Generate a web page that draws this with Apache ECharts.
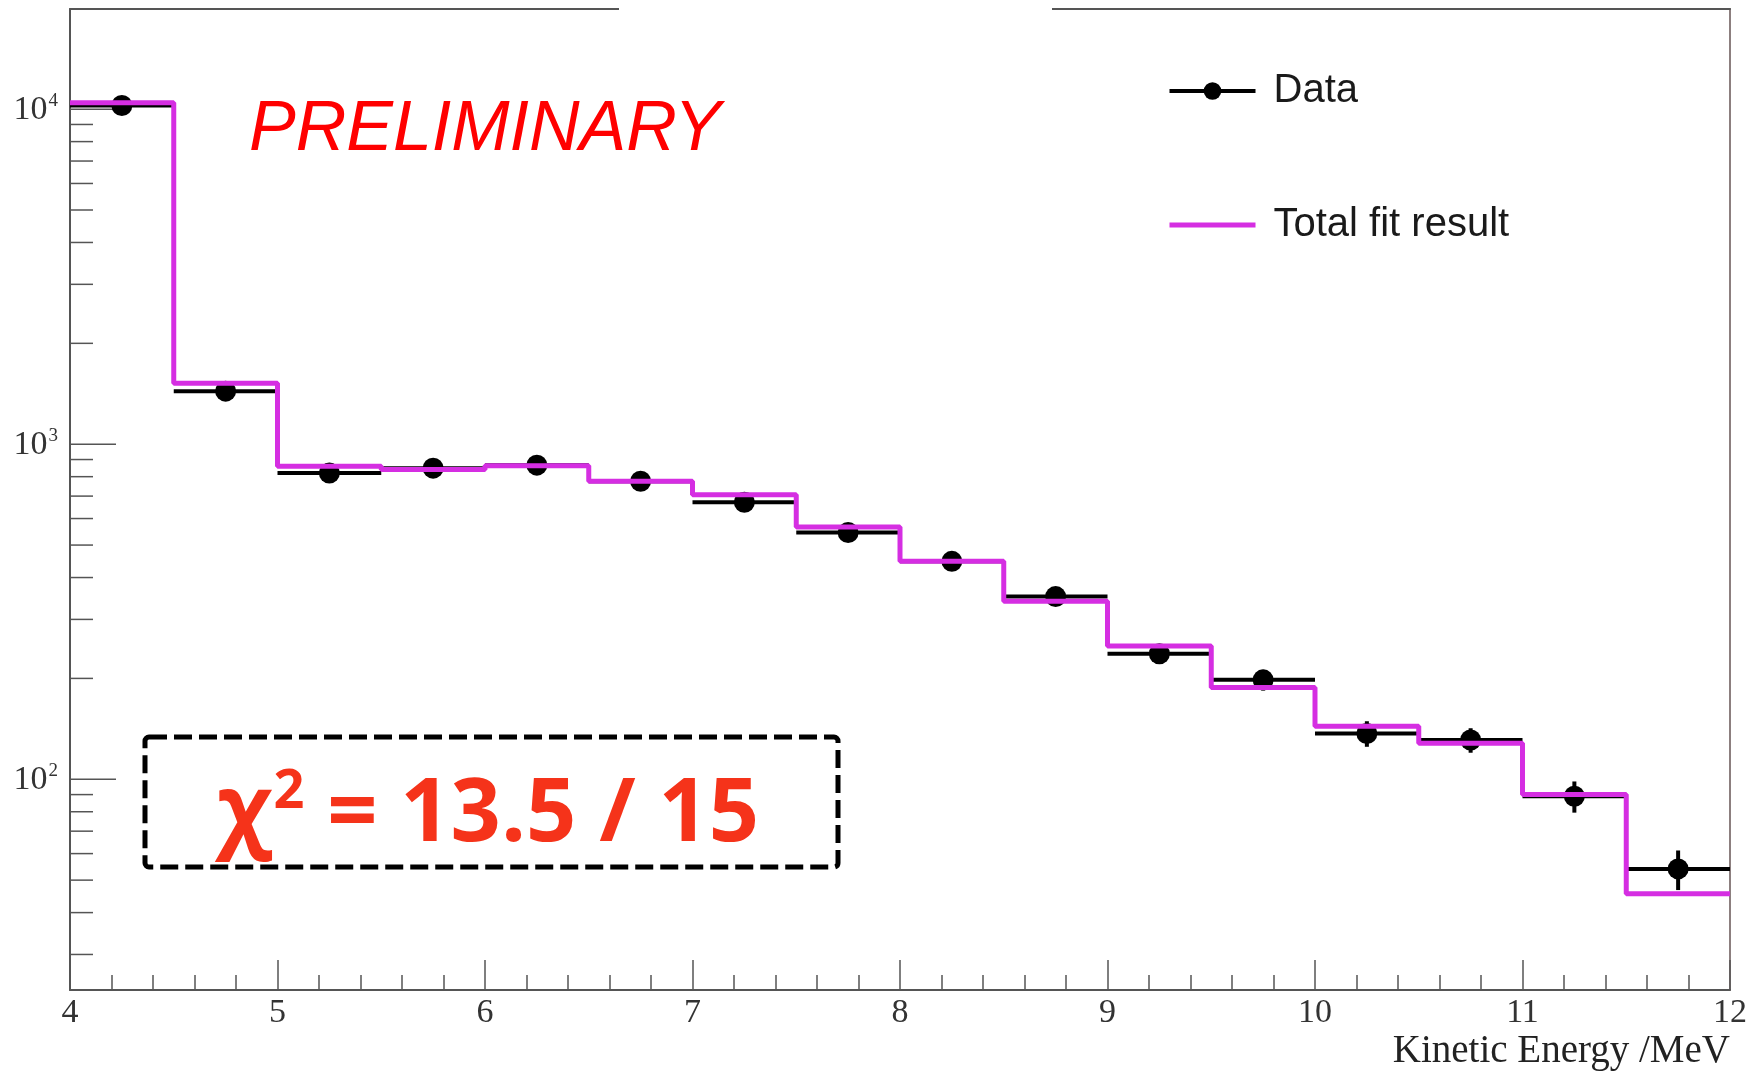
<!DOCTYPE html>
<html>
<head>
<meta charset="utf-8">
<script src="https://cdn.jsdelivr.net/npm/echarts@6/dist/echarts.min.js"></script>
<style>
html,body{margin:0;padding:0;background:#fff;}
#chart{width:1754px;height:1071px;}
</style>
</head>
<body>
<div id="chart"></div>
<script>
// ---- data ----
const binEdges   = [4, 4.5, 5, 5.5, 6, 6.5, 7, 7.5, 8, 8.5, 9, 9.5, 10, 10.5, 11, 11.5, 12];
const binCentres = [4.25, 4.75, 5.25, 5.75, 6.25, 6.75, 7.25, 7.75, 8.25, 8.75, 9.25, 9.75, 10.25, 10.75, 11.25, 11.75];
const dataValues = [10250, 1440, 820, 848, 866, 775, 671, 545, 447, 351, 237, 198, 137, 131, 89, 54];
const dataErrors = [101, 38, 29, 29, 29, 28, 26, 23, 21, 19, 15, 14, 12, 11, 9.5, 7.3];
const fitValues  = [10450, 1520, 860, 840, 862, 775, 707, 566, 447, 340, 250, 188, 144, 128, 90, 45.5];
const xTickValues = [4, 5, 6, 7, 8, 9, 10, 11, 12];
const yMajorTicks = [100, 1000, 10000];
const yMinorTicks = [30, 40, 50, 60, 70, 80, 90,
                     200, 300, 400, 500, 600, 700, 800, 900,
                     2000, 3000, 4000, 5000, 6000, 7000, 8000, 9000];

const AXIS = '#555555';
const MAGENTA = '#d52ee2';

const chart = echarts.init(document.getElementById('chart'), null, {renderer: 'canvas'});

const errData = binCentres.map((c, i) => [c, dataValues[i], binEdges[i], binEdges[i + 1],
                                          dataValues[i] - dataErrors[i], dataValues[i] + dataErrors[i]]);
const fitData = binEdges.map((e, i) => [e, fitValues[Math.min(i, fitValues.length - 1)]]);
const tickData = yMajorTicks.map(v => [xTickValues[0], v, 1]).concat(yMinorTicks.map(v => [xTickValues[0], v, 0]));

const option = {
  backgroundColor: '#ffffff',
  animation: false,
  grid: {left: 70, right: 24, top: 9, bottom: 81, containLabel: false},
  xAxis: [{
    type: 'value', min: 4, max: 12, interval: 1, position: 'bottom',
    axisLine: {show: true, onZero: false, lineStyle: {color: AXIS, width: 2}},
    axisTick: {show: true, inside: true, length: 30, lineStyle: {color: AXIS, width: 1.5}},
    minorTick: {show: true, splitNumber: 5, length: 15, lineStyle: {color: AXIS, width: 1.5}},
    splitLine: {show: false}, minorSplitLine: {show: false},
    axisLabel: {fontFamily: 'Liberation Serif', fontSize: 34, color: '#333', margin: 6},
    name: 'Kinetic Energy /MeV', nameLocation: 'end', nameGap: 0,
    nameTextStyle: {fontFamily: 'Liberation Serif', fontSize: 39, color: '#222',
                    align: 'right', verticalAlign: 'top', padding: [42, 0, 0, 0]}
  }, {
    type: 'value', min: 4, max: 12, position: 'top',
    axisLine: {show: true, onZero: false, lineStyle: {color: AXIS, width: 2}},
    axisTick: {show: false}, axisLabel: {show: false}, splitLine: {show: false}
  }],
  yAxis: [{
    type: 'log', logBase: 10, min: 23.5, max: 19900, position: 'left',
    axisLine: {show: true, onZero: false, lineStyle: {color: AXIS, width: 2}},
    axisTick: {show: false}, splitLine: {show: false},
    axisLabel: {
      margin: 12, showMinLabel: false, showMaxLabel: false,
      formatter: function (v) {
        const l = Math.log10(v), r = Math.round(l);
        if (Math.abs(l - r) > 1e-6) return '';
        return '{b|10}{s|' + r + '}';
      },
      rich: {
        b: {fontFamily: 'Liberation Serif', fontSize: 34, color: '#333', verticalAlign: 'bottom'},
        s: {fontFamily: 'Liberation Serif', fontSize: 19, color: '#333', verticalAlign: 'bottom', padding: [0, 0, 16, 1]}
      }
    }
  }, {
    type: 'log', logBase: 10, min: 23.5, max: 19900, position: 'right',
    axisLine: {show: true, onZero: false, lineStyle: {color: '#8c7f7f', width: 2}},
    axisTick: {show: false}, axisLabel: {show: false}, splitLine: {show: false}
  }],
  legend: {
    orient: 'vertical', left: 1162, top: 66, itemWidth: 86, itemHeight: 22, itemGap: 94,
    selectedMode: false,
    textStyle: {fontFamily: 'Liberation Sans', fontSize: 40, color: '#1a1a1a', padding: [0, 0, 0, 13]},
    data: [
      {name: 'Data', lineStyle: {opacity: 1, width: 4, color: '#000'}},
      {name: 'Total fit result', itemStyle: {opacity: 0}, lineStyle: {opacity: 1, width: 5, color: MAGENTA}}
    ]
  },
  series: [
    {
      name: 'yTicks', type: 'custom', silent: true, clip: false, z: 1,
      data: tickData,
      renderItem: function (params, api) {
        const p = api.coord([api.value(0), api.value(1)]);
        const len = api.value(2) ? 46 : 23;
        return {type: 'line', shape: {x1: p[0], y1: p[1], x2: p[0] + len, y2: p[1]},
                style: {stroke: AXIS, lineWidth: 1.5}};
      }
    },
    {
      name: 'DataBars', type: 'custom', silent: true, z: 2,
      encode: {x: [0, 2, 3], y: [1, 4, 5]},
      data: errData,
      renderItem: function (params, api) {
        const a = api.coord([api.value(2), api.value(1)]);
        const b = api.coord([api.value(3), api.value(1)]);
        const t = api.coord([api.value(0), api.value(5)]);
        const d = api.coord([api.value(0), api.value(4)]);
        return {type: 'group', children: [
          {type: 'line', shape: {x1: a[0], y1: a[1], x2: b[0], y2: b[1]}, style: {stroke: '#000', lineWidth: 4}},
          {type: 'line', shape: {x1: t[0], y1: t[1], x2: d[0], y2: d[1]}, style: {stroke: '#000', lineWidth: 4}}
        ]};
      }
    },
    {
      name: 'Data', type: 'line', z: 3,
      data: binCentres.map((c, i) => [c, dataValues[i]]),
      symbol: 'circle', symbolSize: 21, showSymbol: true,
      itemStyle: {color: '#000'},
      lineStyle: {opacity: 0, width: 4, color: '#000'}
    },
    {
      name: 'Total fit result', type: 'line', step: 'end', z: 5,
      data: fitData, symbol: 'none',
      itemStyle: {color: MAGENTA},
      lineStyle: {color: MAGENTA, width: 5}
    }
  ],
  graphic: [
    {type: 'rect', z: 100, shape: {x: 619, y: 0, width: 433, height: 20}, style: {fill: '#ffffff'}},
    {type: 'text', z: 100, x: 249, y: 131,
     style: {text: 'PRELIMINARY', fontFamily: 'Liberation Sans', fontStyle: 'italic', fontSize: 70,
             fill: '#ff0000', align: 'left', verticalAlign: 'middle'}},
    {type: 'rect', z: 100, shape: {x: 145, y: 737, width: 693, height: 130, r: 4},
     style: {fill: 'none', stroke: '#000', lineWidth: 5, lineDash: [18, 7]}},
    {type: 'text', z: 100, x: 488, y: 860,
     style: {
       text: '{c|χ}{s|2}{t| = 13.5 / 15}',
       align: 'center', verticalAlign: 'bottom',
       rich: {
         c: {fontFamily: 'Open Sans', fontWeight: 'bold', fontSize: 92, fill: '#f5331a', verticalAlign: 'bottom'},
         s: {fontFamily: 'Open Sans', fontWeight: 'bold', fontSize: 54, fill: '#f5331a', verticalAlign: 'bottom', padding: [0, 0, 40, 2]},
         t: {fontFamily: 'Open Sans', fontWeight: 'bold', fontSize: 88, fill: '#f5331a', verticalAlign: 'bottom'}
       }
     }}
  ]
};
chart.setOption(option);
</script>
</body>
</html>
